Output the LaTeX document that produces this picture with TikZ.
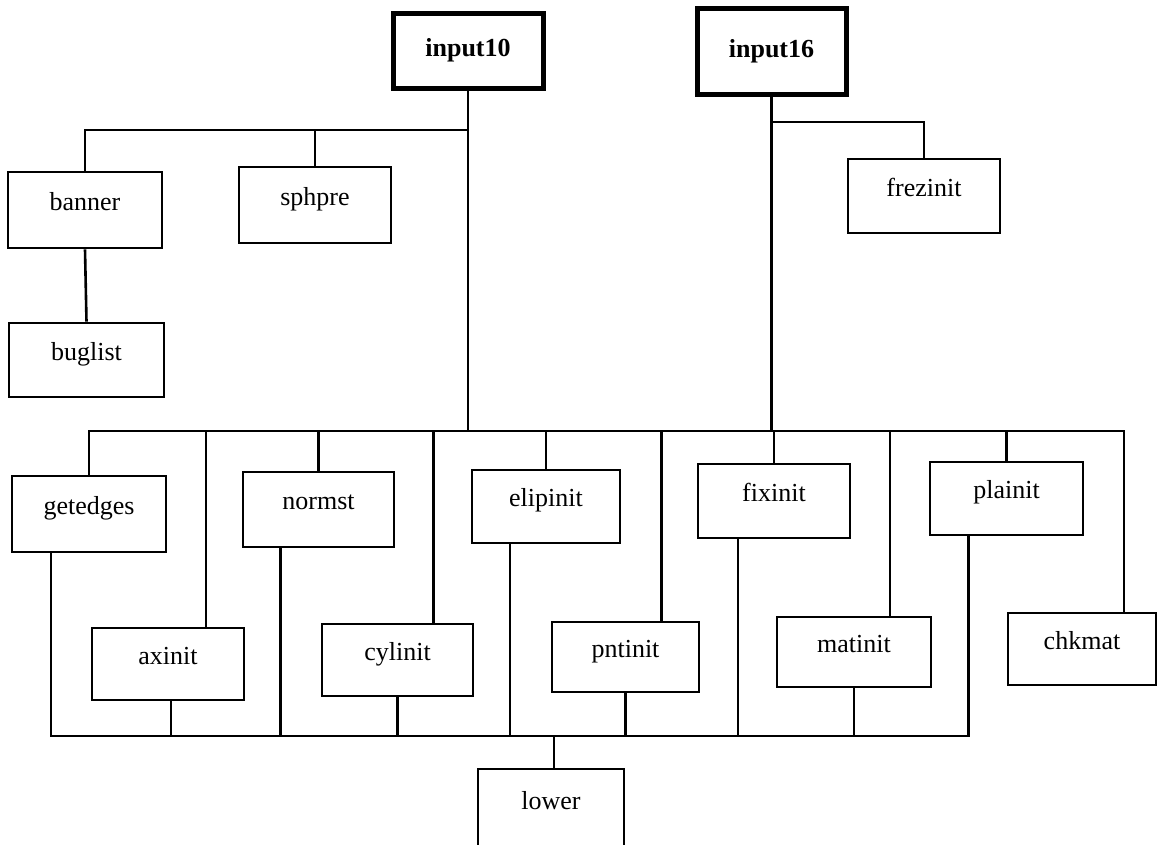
\documentclass[tikz,border=0pt]{standalone}
\usepackage{fontspec}
\setmainfont{Liberation Serif}
\begin{document}
\begin{tikzpicture}[x=1pt,y=-1pt,
  line width=2.6pt,
  lbl/.style={font=\fontsize{26}{28}\selectfont},
  box/.style={draw, rectangle, inner sep=0pt, lbl, text height=10pt, text depth=10pt},
  mainbox/.style={draw, rectangle, inner sep=0pt, line width=5pt,
    font=\fontsize{26}{28}\selectfont\bfseries},
  wire/.style={line width=2.6pt}]
\useasboundingbox (0,0) rectangle (1160,844);

% top-level routines
\node[mainbox, minimum width=150, minimum height=75] (in10) at (468,50.5) {input10};
\node[mainbox, minimum width=149, minimum height=86] (in16) at (771.5,51) {input16};

% first level under input10 / input16
\node[box, minimum width=154, minimum height=76] (ban) at (85,210) {banner};
\node[box, minimum width=152, minimum height=76] (sph) at (315,205) {sphpre};
\node[box, minimum width=155, minimum height=74] (bug) at (86.5,360) {buglist};
\node[box, minimum width=152, minimum height=74] (frz) at (924,196) {frezinit};

% initialisation routines, upper row
\node[box, minimum width=154, minimum height=76] (ge) at (89,514) {getedges};
\node[box, minimum width=151, minimum height=75] (nm) at (318.5,509.5) {normst};
\node[box, minimum width=148, minimum height=73] (el) at (546,506.5) {elipinit};
\node[box, minimum width=152, minimum height=74] (fx) at (774,501) {fixinit};
\node[box, minimum width=153, minimum height=73] (pl) at (1006.5,498.5) {plainit};

% initialisation routines, lower row
\node[box, minimum width=152, minimum height=72] (ax) at (168,664) {axinit};
\node[box, minimum width=151, minimum height=72] (cy) at (397.5,660) {cylinit};
\node[box, minimum width=147, minimum height=70] (pn) at (625.5,657) {pntinit};
\node[box, minimum width=154, minimum height=70] (mt) at (854,652) {matinit};
\node[box, minimum width=148, minimum height=72] (ck) at (1082,649) {chkmat};

% common callee
\node[box, minimum width=146, minimum height=80] (low) at (551,809) {lower};

% bus levels
\coordinate (ub) at (0,130);
\coordinate (fb) at (0,122);
\coordinate (tb) at (0,431);
\coordinate (bb) at (0,736);

% input10 branches
\draw[wire] (in10.south) -- (in10.south |- tb);
\draw[wire] (in10.south |- ub) -| (ban.north);
\draw[wire] (sph.north |- ub) -- (sph.north);
\draw[wire] (ban.south) -- (bug.north);

% input16 branches
\draw[wire] (in16.south) -- (in16.south |- tb);
\draw[wire] (in16.south |- fb) -| (frz.north);

% upper bus to all init routines
\draw[wire] (ge.north) |- ([xshift=42]ck.north |- tb) -- ([xshift=42]ck.north);
\draw[wire] (nm.north |- tb) -- (nm.north);
\draw[wire] (el.north |- tb) -- (el.north);
\draw[wire] (fx.north |- tb) -- (fx.north);
\draw[wire] (pl.north |- tb) -- (pl.north);
\draw[wire] ([xshift=38]ax.north |- tb) -- ([xshift=38]ax.north);
\draw[wire] ([xshift=36]cy.north |- tb) -- ([xshift=36]cy.north);
\draw[wire] ([xshift=36]pn.north |- tb) -- ([xshift=36]pn.north);
\draw[wire] ([xshift=36]mt.north |- tb) -- ([xshift=36]mt.north);

% lower bus collecting into lower (only the right end is rounded)
\draw[wire] ([xshift=-38]ge.south) |- ([xshift=-38]pl.south |- bb)
  [rounded corners=4pt] -- ([xshift=-38]pl.south);
\draw[wire] ([xshift=-38]nm.south) -- ([xshift=-38]nm.south |- bb);
\draw[wire] ([xshift=-36]el.south) -- ([xshift=-36]el.south |- bb);
\draw[wire] ([xshift=-36]fx.south) -- ([xshift=-36]fx.south |- bb);
\draw[wire] ([xshift=3]ax.south) -- ([xshift=3]ax.south |- bb);
\draw[wire] (cy.south) -- (cy.south |- bb);
\draw[wire] (pn.south) -- (pn.south |- bb);
\draw[wire] (mt.south) -- (mt.south |- bb);
\draw[wire] ([xshift=3]low.north |- bb) -- ([xshift=3]low.north);
\end{tikzpicture}
\end{document}
